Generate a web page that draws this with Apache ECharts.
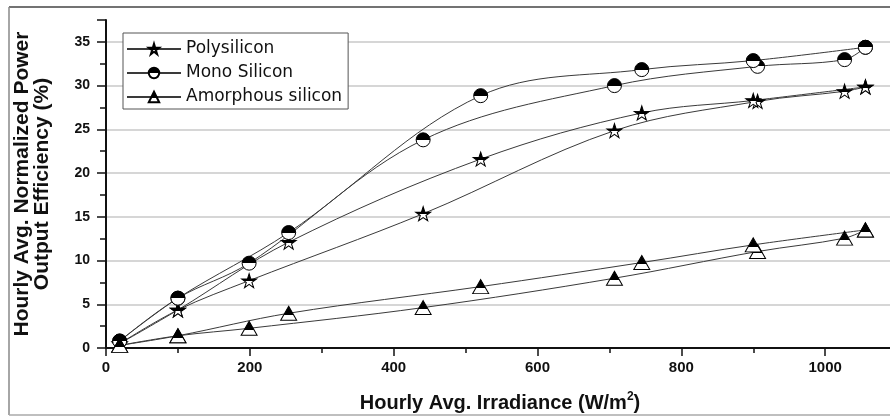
<!DOCTYPE html>
<html>
<head>
<meta charset="utf-8">
<script src="https://cdn.jsdelivr.net/npm/echarts@6/dist/echarts.min.js"></script>
<style>
html, body { margin: 0; padding: 0; background: #fff; }
#chart { width: 890px; height: 418px; }
</style>
</head>
<body>
<div id="chart"></div>
<script>
const irradianceA = [19, 100, 199, 441, 707, 906, 1027, 1056];
const irradianceB = [19, 100, 254, 521, 745, 900, 1056];

const polyA = [0.5, 4.35, 7.7, 15.35, 24.85, 28.2, 29.35, 29.85];
const polyB = [0.5, 4.35, 12.1, 21.6, 26.87, 28.3, 29.85];
const monoA = [0.8, 5.7, 9.7, 23.8, 30.0, 32.2, 32.97, 34.38];
const monoB = [0.8, 5.7, 13.2, 28.85, 31.83, 32.86, 34.38];
const amorphA = [0.3, 1.4, 2.25, 4.62, 7.98, 11.03, 12.56, 13.5];
const amorphB = [0.3, 1.4, 3.97, 7.02, 9.77, 11.79, 13.5];

const names = ['Polysilicon', 'Mono Silicon', 'Amorphous silicon'];

const starPath = 'path://M50,0 L61,35 L98,35 L68,57 L79,91 L50,70 L21,91 L32,57 L2,35 L39,35 Z';

const boldFont = 'Liberation Sans';

// black top, white bottom
const halfFill = split => ({
    type: 'linear', x: 0, y: 0, x2: 0, y2: 1,
    colorStops: [
        { offset: 0, color: '#000' },
        { offset: split, color: '#000' },
        { offset: split, color: '#fff' },
        { offset: 1, color: '#fff' }
    ]
});

const makeSeries = (name, xs, ys, symbol, size, split) => ({
    name: name,
    type: 'line',
    data: xs.map((x, i) => [x, ys[i]]),
    smooth: 0.35,
    symbol: symbol,
    symbolSize: size,
    showSymbol: true,
    lineStyle: { color: '#3a3a3a', width: 1 },
    itemStyle: { color: halfFill(split), borderColor: '#000', borderWidth: 1 },
    emphasis: { disabled: true }
});

const series = [
    makeSeries(names[0], irradianceA, polyA, starPath, [15, 14], 0.55),
    makeSeries(names[0], irradianceB, polyB, starPath, [15, 14], 0.55),
    makeSeries(names[1], irradianceA, monoA, 'circle', 14, 0.5),
    makeSeries(names[1], irradianceB, monoB, 'circle', 14, 0.5),
    makeSeries(names[2], irradianceA, amorphA, 'triangle', [16, 14], 0.62),
    makeSeries(names[2], irradianceB, amorphB, 'triangle', [16, 14], 0.62)
];

const chart = echarts.init(document.getElementById('chart'));

const option = {
    animation: false,
    backgroundColor: '#fff',
    // the plot runs past the right edge of the picture
    grid: { left: 106, top: 20, bottom: 70, right: -79, outerBoundsMode: 'none', containLabel: false },
    legend: {
        data: names,
        orient: 'vertical',
        left: 123,
        top: 33,
        padding: [7, 6, 3, 3],
        itemGap: 6,
        itemWidth: 54,
        itemHeight: 13,
        borderColor: '#555',
        borderWidth: 1,
        backgroundColor: '#fff',
        selectedMode: false,
        textStyle: { fontFamily: 'DejaVu Sans', fontSize: 17, color: '#111', lineHeight: 18 }
    },
    xAxis: {
        type: 'value',
        min: 0,
        max: 1200,
        interval: 200,
        axisLine: { onZero: false, lineStyle: { color: '#111', width: 2 } },
        axisTick: { length: 8, lineStyle: { color: '#111', width: 1.5 } },
        minorTick: { show: true, splitNumber: 2, length: 5, lineStyle: { color: '#111', width: 1.5 } },
        axisLabel: {
            fontFamily: boldFont, fontWeight: 'bold', fontSize: 15, color: '#111', margin: 12,
            formatter: v => String(v)
        },
        splitLine: { show: false }
    },
    yAxis: {
        type: 'value',
        min: 0,
        max: 37.5,
        interval: 5,
        axisLine: { show: true, lineStyle: { color: '#111', width: 2 } },
        axisTick: { length: 9, lineStyle: { color: '#111', width: 1.5 } },
        minorTick: { show: true, splitNumber: 2, length: 6, lineStyle: { color: '#111', width: 1.5 } },
        axisLabel: { fontFamily: boldFont, fontWeight: 'bold', fontSize: 14, color: '#111', margin: 16, showMaxLabel: false },
        splitLine: { show: true, showMaxLine: false, lineStyle: { color: '#c8c8c8', width: 1.5 } },
        name: 'Hourly Avg. Normalized Power\nOutput Efficiency (%)',
        nameLocation: 'middle',
        nameGap: 54,
        nameTextStyle: { fontFamily: boldFont, fontWeight: 'bold', fontSize: 21, lineHeight: 20, color: '#111' }
    },
    graphic: [
        { type: 'line', shape: { x1: 9, y1: 7, x2: 890, y2: 7 }, style: { stroke: '#444', lineWidth: 1.5 } },
        { type: 'line', shape: { x1: 9, y1: 7, x2: 9, y2: 415 }, style: { stroke: '#888', lineWidth: 1.5 } },
        { type: 'line', shape: { x1: 9, y1: 415, x2: 890, y2: 415 }, style: { stroke: '#aaa', lineWidth: 1.5 } },
        {
            type: 'text',
            x: 500,
            y: 403,
            style: {
                text: 'Hourly Avg. Irradiance (W/m{sup|2})',
                fontFamily: boldFont,
                fontWeight: 'bold',
                fontSize: 20,
                fill: '#111',
                align: 'center',
                verticalAlign: 'middle',
                lineHeight: 24,
                rich: {
                    sup: { fontFamily: boldFont, fontWeight: 'bold', fontSize: 12, fill: '#111', verticalAlign: 'top', lineHeight: 14 }
                }
            }
        }
    ],
    series: series
};

chart.setOption(option);
</script>
</body>
</html>
